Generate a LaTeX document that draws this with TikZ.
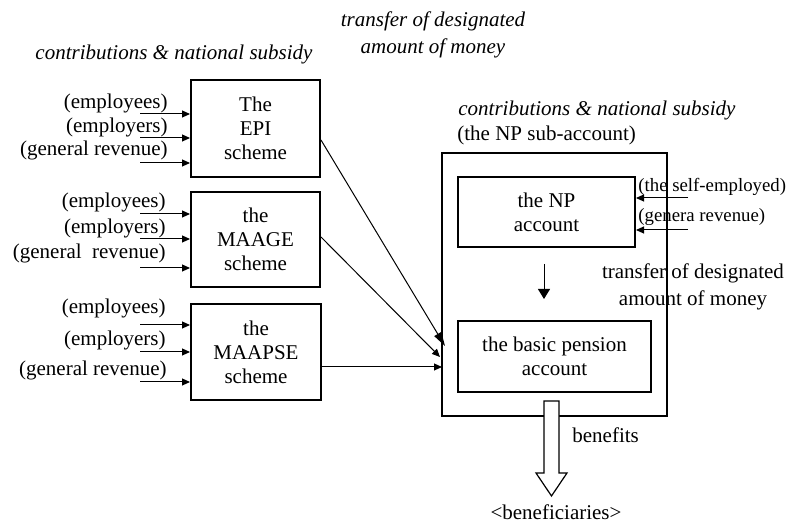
\documentclass[tikz,border=0pt]{standalone}
\usepackage{fontspec}
\setmainfont{Liberation Serif}
\usetikzlibrary{arrows.meta,calc}
\begin{document}
\begin{tikzpicture}[x=0.5pt,y=-0.5pt,
  every node/.style={font=\fontsize{10.5}{12}\selectfont},
  box/.style={draw,line width=1pt,align=center,inner sep=0pt},
  lbl/.style={inner sep=0pt},
  small/.style={inner sep=0pt,font=\fontsize{9.4}{11}\selectfont},
  twoline/.style={inner sep=0pt,align=center,font=\fontsize{10.5}{13.5}\selectfont},
  arr/.style={line width=0.5pt,-{Triangle[length=4pt,width=3.5pt]}},
  bigarr/.style={line width=0.5pt,-{Triangle[length=7pt,width=4pt]}},
  downarr/.style={line width=0.5pt,-{Triangle[length=5pt,width=6pt]}}]
\useasboundingbox (0,0) rectangle (789,523);

% headings
\node[lbl,font=\fontsize{10.5}{12}\itshape] (hleft) at (174,54) {contributions \& national subsidy};
\node[twoline,font=\fontsize{10.5}{13.5}\itshape] (htop) at (433,34.5) {transfer of designated\\amount of money};
\node[lbl,anchor=west,font=\fontsize{10.5}{12}\itshape] (hright) at (458,110) {contributions \& national subsidy};
\node[lbl,anchor=west] (hsub) at (457,135) {(the NP sub-account)};

% scheme boxes
\node[box,minimum width=64.5pt,minimum height=48.5pt] (epi) at (255.5,128.5) {The\\EPI\\scheme};
\node[box,minimum width=64.5pt,minimum height=47.5pt] (maage) at (255.5,239.5) {the\\MAAGE\\scheme};
\node[box,minimum width=65pt,minimum height=48pt] (maapse) at (256,352) {the\\MAAPSE\\scheme};

% contributor labels
\node[lbl,anchor=east] (epiA) at (168,103) {(employees)};
\node[lbl,anchor=east] (epiB) at (168,127) {(employers)};
\node[lbl,anchor=east] (epiC) at (168,150) {(general revenue)};
\node[lbl,anchor=east] (maA) at (166,202) {(employees)};
\node[lbl,anchor=east] (maB) at (166,228) {(employers)};
\node[lbl,anchor=east] (maC) at (166,253) {(general\ \ revenue)};
\node[lbl,anchor=east] (mpA) at (166,308) {(employees)};
\node[lbl,anchor=east] (mpB) at (166,340) {(employers)};
\node[lbl,anchor=east] (mpC) at (167,370) {(general revenue)};

% contribution inflows
\coordinate (ia1) at (140,114);
\coordinate (ia2) at (140,138);
\coordinate (ia3) at (140,163);
\coordinate (ib1) at (140,214);
\coordinate (ib2) at (140,239);
\coordinate (ib3) at (140,268);
\coordinate (ic1) at (140,325);
\coordinate (ic2) at (140,352);
\coordinate (ic3) at (140,382);
\foreach \c/\b in {ia1/epi,ia2/epi,ia3/epi,ib1/maage,ib2/maage,ib3/maage,ic1/maapse,ic2/maapse,ic3/maapse}
  \draw[arr] (\c) -- (\c -| \b.west);

% NP sub-account
\node[box,minimum width=112.5pt,minimum height=131.5pt] (sub) at (554.5,284.5) {};
\node[box,minimum width=88.5pt,minimum height=35pt] (np) at (546.5,212) {the NP\\account};
\node[box,minimum width=96.5pt,minimum height=35.5pt] (basic) at (554.5,356.5) {the basic pension\\account};

\node[small,anchor=west] (selfemp) at (638,187) {(the self-employed)};
\node[small,anchor=west] (genrev) at (638,217) {(genera revenue)};
\coordinate (s1) at (688,198);
\coordinate (s2) at (688,230);
\draw[arr] (s1) -- (s1 -| np.east);
\draw[arr] (s2) -- (s2 -| np.east);

\node[twoline] (transfer) at (693,286.5) {transfer of designated\\amount of money};
\draw[downarr] ($(np.south)+(-2.5,16)$) -- ($(basic.north)+(-10.5,-21)$);

% transfers from the schemes
\coordinate (t1) at (445,346);
\coordinate (t2) at (440,357);
\coordinate (t3) at (442,367);
\draw[bigarr] ($(epi.east)+(0,11.5)$) -- (t1);
\draw[arr] ($(maage.east)+(0,-2.5)$) -- (t2);
\draw[arr] ($(maapse.east)+(0,15)$) -- (t3);

% benefits outflow
\draw[line width=0.6pt,fill=white] (544,401) -- (559,401) -- (559,473) -- (567,473)
  -- (551.5,496) -- (536,473) -- (544,473) -- cycle;
\node[lbl,anchor=west] (benefits) at (572,435) {benefits};
\node[lbl] (benef) at (556,512) {\textless beneficiaries\textgreater};
\end{tikzpicture}
\end{document}
